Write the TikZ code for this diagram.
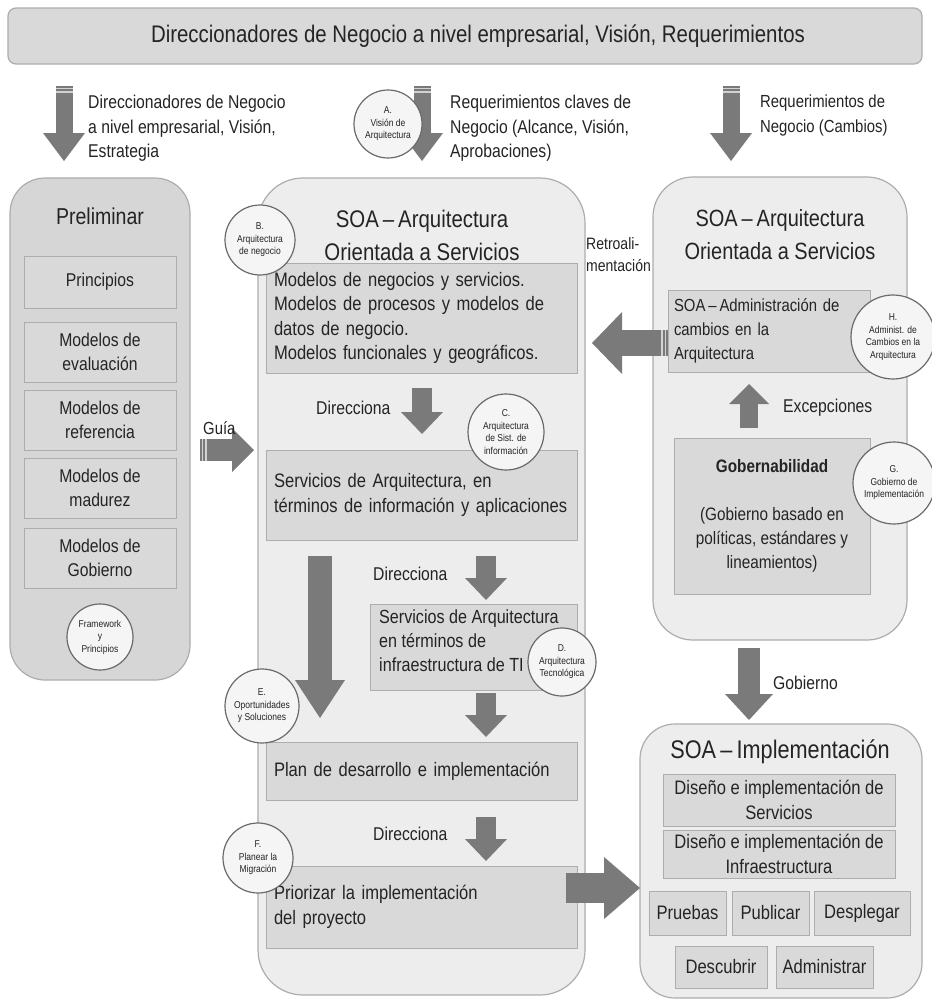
\documentclass[tikz,border=0pt]{standalone}
\usepackage{fontspec}
\setmainfont[FakeStretch=0.85]{Liberation Sans}
\usetikzlibrary{arrows.meta}

\definecolor{ink}{HTML}{242424}
\definecolor{panelfill}{HTML}{EDEDED}
\definecolor{prelimfill}{HTML}{D6D6D6}
\definecolor{cellfill}{HTML}{D9D9D9}
\definecolor{edgegray}{HTML}{ADADAD}
\definecolor{arrowgray}{HTML}{7A7A7A}
\definecolor{stripe}{HTML}{D2D2D2}
\definecolor{ringfill}{HTML}{F5F5F5}
\definecolor{ringedge}{HTML}{6A6A6A}

\newcommand\fsz[2]{\fontsize{#1}{#2}\selectfont}

\tikzset{
  every node/.style={text=ink},
  panel/.style={draw=edgegray, line width=1.2pt, fill=panelfill, rounded corners=#1, inner sep=0pt},
  cell/.style={draw=edgegray, line width=1pt, fill=cellfill, inner sep=0pt, align=center, font=\fsz{19.5}{24.5}},
  leftcell/.style={cell, align=left},
  ring/.style={circle, draw=ringedge, line width=1.2pt, fill=ringfill, minimum size=#1, inner sep=0pt, align=center, font=\fsz{10}{12.5}},
  blockarrow/.style n args={3}{draw=arrowgray, line width=#1, -{Triangle[length=#3, width=#2, line width=0pt]}},
  stripes/.style={draw=stripe, line width=1.3pt},
  lbl/.style={align=left, anchor=north west, inner sep=0pt, font=\fsz{18.5}{24.5}},
  title/.style={align=center, inner sep=0pt, font=\fsz{24}{33}},
}

\begin{document}
\begin{tikzpicture}[x=1pt,y=-1pt]
\useasboundingbox (0,0) rectangle (932,1002);
\fill[white] (0,0) rectangle (932,1002);

% ---------- banner ----------
\node[panel=8pt, fill=cellfill, minimum width=914pt, minimum height=56pt] (banner) at (465,36) {};
\node[inner sep=0pt, font=\fsz{24}{28}] (bannertext) at (478,36)
  {Direccionadores de Negocio a nivel empresarial, Visión, Requerimientos};

% ---------- panels ----------
\node[panel=35pt, fill=prelimfill, minimum width=180pt, minimum height=502pt] (prelim) at (100,429) {};
\node[panel=45pt, minimum width=327pt, minimum height=817pt] (soa) at (421.5,586.5) {};
\node[panel=40pt, minimum width=254pt, minimum height=463pt] (soagov) at (780,408.5) {};
\node[panel=35pt, minimum width=282pt, minimum height=274pt] (soaimp) at (781,861) {};

% ---------- panel titles ----------
\node[title, font=\fsz{23}{26}] (prelimtitle) at (100,216) {Preliminar};
\node[title] (soatitle) at (422,235) {SOA\,–\,Arquitectura\\Orientada a Servicios};
\node[title, font=\fsz{23.5}{33}] (govtitle) at (780,235) {SOA\,–\,Arquitectura\\Orientada a Servicios};
\node[title, font=\fsz{25.5}{30}] (imptitle) at (780,752) {SOA\,–\,Implementación};

% ---------- Preliminar cells ----------
\tikzset{pcell/.style={cell, font=\fsz{18.5}{24}, minimum width=152pt}}
\node[pcell, minimum height=52pt] (p1) at (100,282) {Principios};
\node[pcell, minimum height=60pt] (p2) at (100,352) {Modelos de\\evaluación};
\node[pcell, minimum height=60pt] (p3) at (100,420) {Modelos de\\referencia};
\node[pcell, minimum height=60pt] (p4) at (100,488) {Modelos de\\madurez};
\node[pcell, minimum height=60pt] (p5) at (100,558) {Modelos de\\Gobierno};

% ---------- central column cells ----------
\node[leftcell, minimum width=311pt, minimum height=110pt, text width=295pt] (m1) at (421.5,318)
  {Modelos de negocios y servicios.\\Modelos de procesos y modelos de\\datos de negocio.\\Modelos funcionales y geográficos.};
\node[leftcell, minimum width=311pt, minimum height=90pt, text width=295pt] (m2) at (421.5,495)
  {Servicios de Arquitectura, en\\términos de información y aplicaciones};
\node[cell, minimum width=207pt, minimum height=86pt] (m3) at (473.5,647) {};
\node[lbl, font=\fsz{19}{24}] (m3text) at (379,610)
  {Servicios de Arquitectura\\en términos de\\infraestructura de TI};
\node[leftcell, minimum width=311pt, minimum height=58pt, text width=295pt] (m4) at (421.5,771)
  {Plan de desarrollo e implementación};
\node[leftcell, minimum width=311pt, minimum height=82pt, text width=295pt] (m5) at (421.5,907)
  {Priorizar la implementación\\del proyecto};

% ---------- governance cells ----------
\node[leftcell, font=\fsz{17.5}{24}, minimum width=202pt, minimum height=82pt, text width=190pt] (g1) at (769,331)
  {SOA\,–\,Administración de\\cambios en la\\Arquitectura};
\node[cell, font=\fsz{18}{24}, minimum width=196pt, minimum height=156pt] (g2) at (772,516)
  {\textbf{Gobernabilidad}\\[24pt](Gobierno basado en\\políticas, estándares y\\lineamientos)};

% ---------- implementation cells ----------
\node[cell, minimum width=232pt, minimum height=52pt] (i1) at (779,800) {Diseño e implementación de\\Servicios};
\node[cell, minimum width=232pt, minimum height=48pt] (i2) at (779,854) {Diseño e implementación de\\Infraestructura};
\node[cell, minimum width=77pt, minimum height=44pt] (i3) at (687.5,913) {Pruebas};
\node[cell, minimum width=77pt, minimum height=44pt] (i4) at (770.5,913) {Publicar};
\node[cell, minimum width=96pt, minimum height=44pt] (i5) at (862,913) {Desplegar};
\node[cell, minimum width=92pt, minimum height=42pt] (i6) at (721,967) {Descubrir};
\node[cell, minimum width=97pt, minimum height=42pt] (i7) at (824.5,967) {Administrar};

% ---------- arrow end points ----------
\coordinate (a1s) at (64,86);   \coordinate (a1e) at (64,161);
\coordinate (a2s) at (422,86);  \coordinate (a2e) at (422,161);
\coordinate (a3s) at (731,86);  \coordinate (a3e) at (731,161);
\coordinate (gs) at (200,450);  \coordinate (ge) at (254,450);
\coordinate (d1s) at (422,388); \coordinate (d1e) at (422,434);
\coordinate (bs) at (320,556);  \coordinate (be) at (320,718);
\coordinate (d2s) at (486,556); \coordinate (d2e) at (486,600);
\coordinate (d3s) at (486,693); \coordinate (d3e) at (486,737);
\coordinate (d4s) at (486,817); \coordinate (d4e) at (486,861);
\coordinate (rs) at (668,343);  \coordinate (re) at (592,343);
\coordinate (es) at (749,428);  \coordinate (ee) at (749,384);
\coordinate (gvs) at (749,648); \coordinate (gve) at (749,720);
\coordinate (ms) at (566,888);  \coordinate (me) at (640,888);

% ---------- block arrows ----------
\draw[blockarrow={17pt}{42pt}{28pt}] (a1s) -- (a1e);
\draw[blockarrow={17pt}{42pt}{28pt}] (a2s) -- (a2e);
\draw[blockarrow={17pt}{42pt}{28pt}] (a3s) -- (a3e);
\foreach \c in {a1s,a2s,a3s} {
  \draw[stripes] ([shift={(-8.5,2.5)}]\c) -- ++(17,0);
  \draw[stripes] ([shift={(-8.5,6)}]\c) -- ++(17,0);
}
\draw[blockarrow={22pt}{44pt}{22pt}] (gs) -- (ge);
\draw[stripes] ([shift={(2.5,-11)}]gs) -- ++(0,22);
\draw[stripes] ([shift={(6,-11)}]gs) -- ++(0,22);
\draw[blockarrow={20pt}{42pt}{22pt}] (d1s) -- (d1e);
\draw[blockarrow={24pt}{50pt}{38pt}] (bs) -- (be);
\draw[blockarrow={20pt}{42pt}{22pt}] (d2s) -- (d2e);
\draw[blockarrow={20pt}{42pt}{22pt}] (d3s) -- (d3e);
\draw[blockarrow={20pt}{42pt}{22pt}] (d4s) -- (d4e);
\draw[blockarrow={26pt}{62pt}{30pt}] (rs) -- (re);
\draw[stripes] ([shift={(-2.5,-13)}]rs) -- ++(0,26);
\draw[stripes] ([shift={(-6,-13)}]rs) -- ++(0,26);
\draw[blockarrow={18pt}{40pt}{20pt}] (es) -- (ee);
\draw[blockarrow={22pt}{48pt}{26pt}] (gvs) -- (gve);
\draw[blockarrow={30pt}{62pt}{36pt}] (ms) -- (me);

% ---------- text labels ----------
\node[lbl] (lblA) at (88,95) {Direccionadores de Negocio\\a nivel empresarial, Visión,\\Estrategia};
\node[lbl] (lblB) at (450,95) {Requerimientos claves de\\Negocio (Alcance, Visión,\\Aprobaciones)};
\node[lbl, font=\fsz{17.5}{24.5}] (lblC) at (760,95) {Requerimientos de\\Negocio (Cambios)};
\node[lbl, font=\fsz{17.5}{22}] (guia) at (203,421) {Guía};
\node[lbl] (dir1) at (316,401) {Direcciona};
\node[lbl] (dir2) at (373,567) {Direcciona};
\node[lbl] (dir3) at (373,827) {Direcciona};
\node[lbl, font=\fsz{16.5}{22}] (retro) at (586,237) {Retroali-\\mentación};
\node[lbl] (exc) at (783,399) {Excepciones};
\node[lbl] (gob) at (773,676) {Gobierno};

% ---------- phase circles ----------
\node[ring=68pt] (cA) at (388,124) {A.\\Visión de\\Arquitectura};
\node[ring=70pt] (cB) at (260,240) {B.\\Arquitectura\\de negocio};
\node[ring=76pt] (cC) at (506,432) {C.\\Arquitectura\\de Sist. de\\información};
\node[ring=68pt] (cD) at (562,662) {D.\\Arquitectura\\Tecnológica};
\node[ring=74pt] (cE) at (262,706) {E.\\Oportunidades\\y Soluciones};
\node[ring=70pt] (cF) at (258,858) {F.\\Planear la\\Migración};
\node[ring=82pt] (cG) at (894,483) {G.\\Gobierno de\\Implementación};
\node[ring=84pt] (cH) at (893,337) {H.\\Administ. de\\Cambios en la\\Arquitectura};
\node[ring=66pt] (cP) at (100,637) {Framework\\y\\Principios};
\end{tikzpicture}
\end{document}
